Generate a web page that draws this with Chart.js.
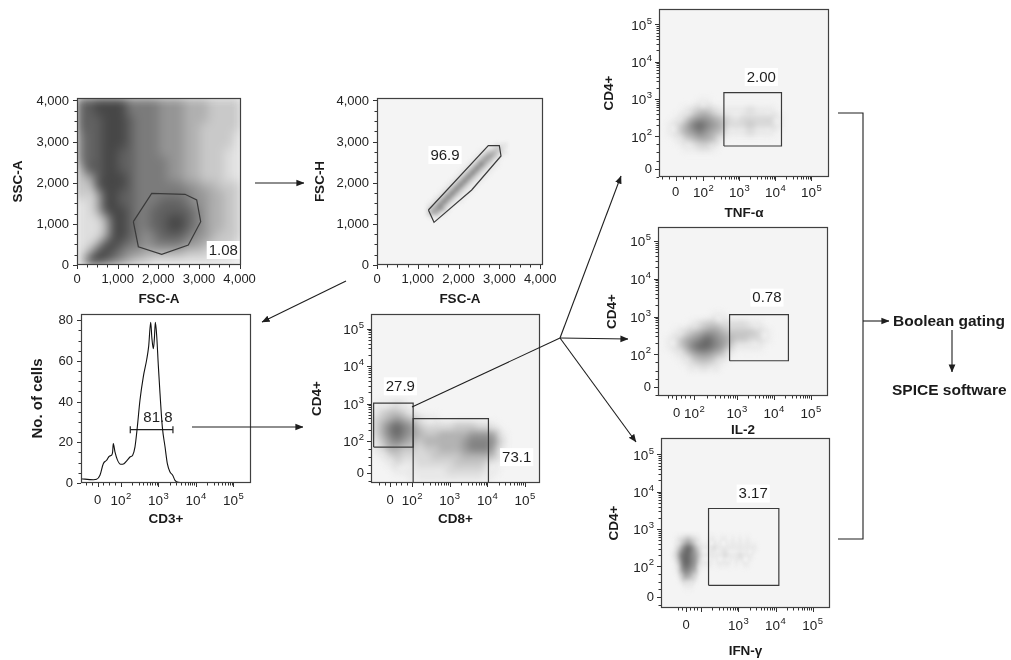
<!DOCTYPE html>
<html>
<head>
<meta charset="utf-8">
<script src="https://cdn.jsdelivr.net/npm/chart.js@4.4.1/dist/chart.umd.min.js"></script>
<style>
  html, body { margin: 0; padding: 0; background: #fff; width: 1011px; height: 660px; overflow: hidden; }
  #figure { position: relative; width: 1011px; height: 660px; font-family: 'Liberation Sans', Arial, sans-serif; }
  .panel { position: absolute; z-index: 1; }
  .panel canvas { display: block; }
  #flow { position: absolute; left: 0; top: 0; z-index: 2; pointer-events: none; }
  .note { position: absolute; z-index: 3; font-weight: bold; font-size: 15.5px; line-height: 18px; color: #1a1a1a; white-space: nowrap; }
</style>
</head>
<body>
<div id="figure">
  <svg id="flow" width="1011" height="660" viewBox="0 0 1011 660">
    <defs>
      <marker id="head" viewBox="0 0 10 10" refX="9.5" refY="5" markerWidth="8" markerHeight="8" markerUnits="userSpaceOnUse" orient="auto">
        <path d="M0,0.8 L10,5 L0,9.2 z" fill="#1e1e1e"/>
      </marker>
    </defs>
    <g stroke="#1e1e1e" stroke-width="1.1" fill="none">
      <line x1="255" y1="183" x2="304" y2="183" marker-end="url(#head)"/>
      <line x1="346" y1="281" x2="262" y2="322" marker-end="url(#head)"/>
      <line x1="192" y1="427" x2="303" y2="427" marker-end="url(#head)"/>
      <line x1="412" y1="407" x2="560" y2="338"/>
      <line x1="560" y1="338" x2="621" y2="176" marker-end="url(#head)"/>
      <line x1="560" y1="338" x2="628" y2="339" marker-end="url(#head)"/>
      <line x1="560" y1="338" x2="636" y2="442" marker-end="url(#head)"/>
      <polyline points="838,113 863,113 863,539 838,539"/>
      <line x1="863" y1="321" x2="889" y2="321" marker-end="url(#head)"/>
      <line x1="952" y1="330" x2="952" y2="372" marker-end="url(#head)"/>
    </g>
  </svg>
  <div class="note" style="left:893px;top:312px">Boolean gating</div>
  <div class="note" style="left:892px;top:381px">SPICE software</div>
</div>

<script>
// ---------------- tick labels ----------------
const LINEAR_TICKS = [0, 1000, 2000, 3000, 4000];
const LINEAR_LABELS = ['0', '1,000', '2,000', '3,000', '4,000'];
const COUNT_TICKS = [0, 20, 40, 60, 80];
const COUNT_LABELS = ['0', '20', '40', '60', '80'];
const DECADE_LABELS = ['0', '10²', '10³', '10⁴', '10⁵'];
const IFNG_DECADE_LABELS = ['0', '', '10³', '10⁴', '10⁵'];

// where 0, 10², 10³, 10⁴, 10⁵ sit on each biexponential axis (display units)
const CD3_DECADES = [1.38, 2, 3, 4, 5];
const CD8_DECADES = [1.42, 2, 3, 4, 5];
const CD4_DECADES = [1.147, 2, 3, 4, 5];
const TNF_DECADES = [1.23, 2, 3, 4, 5];
const CD4_TNF_DECADES = [1.134, 2, 3, 4, 5];
const IL2_DECADES = [1.365, 1.85, 3, 4, 5];
const CD4_IL2_DECADES = [1.135, 2, 3, 4, 5];
const IFNG_DECADES = [1.594, 2, 3, 4, 5];
const CD4_IFNG_DECADES = [1.177, 2, 3, 4, 5];

// ---------------- event density grids (0 = no events, 1..7 rising density, 8/9 saturated core) ----------------
const LYMPH_DENSITY = [
  '66777755554443332222',
  '66777755554443332222',
  '66677765554443332222',
  '66677765554443322222',
  '56677765554443322221',
  '56677765554443322221',
  '56677665554443322211',
  '56677665555443322211',
  '87677665555443322211',
  '88677765555443322211',
  '89777765555554433222',
  '89877665555555443322',
  '99877665556665443322',
  '99877765566666543322',
  '99987765566776543322',
  '99987765566776543322',
  '99987765456665443222',
  '99877655455554432221',
  '98776544333332221111',
  '97765432211111111110'
];
const SINGLET_DENSITY = [
  '00000000000000000111',
  '00000000000000012321',
  '00000000000001234321',
  '00000000000012454210',
  '00000000000124542100',
  '00000000001246421100',
  '00000000012464211000',
  '00000000124642110000',
  '00000001246421100000',
  '00000012464211000000',
  '00000124642110000000',
  '00001246421100000000',
  '00012464211000000000',
  '00124642110000000000',
  '01246421100000000000',
  '12464210000000000000',
  '24553100000000000000',
  '24421000000000000000',
  '01100000000000000000',
  '00000000000000000000'
];
const CD4CD8_DENSITY = [
  '00000000000000000000',
  '00000000000000000000',
  '01121000000000000000',
  '12332100000000000000',
  '23454321100000000000',
  '24676532222333221000',
  '24676543344445554100',
  '13565434444456665200',
  '12443323344456664100',
  '01232222333344443100',
  '00121122222333321000',
  '00011111112222211000',
  '00000111111111110000'
];
const TNF_DENSITY = [
  '00000000000000000000',
  '00000110000000000000',
  '00012332111121110000',
  '00124554321222221000',
  '01246765422232221000',
  '01245654311121110000',
  '00123443100000000000',
  '00011221000000000000',
  '00000000000000000000'
];
const IL2_DENSITY = [
  '00000000000000000000',
  '00000001100000000000',
  '00001233222211000000',
  '00123455433332100000',
  '01245676543322100000',
  '01246776531111000000',
  '00124554310000000000',
  '00012332100000000000',
  '00001111000000000000'
];
const IFNG_DENSITY = [
  '00000000000000000000000000',
  '01234321001101101010100000',
  '02467642111211111111111000',
  '13677653111111211121110000',
  '02577652111011110101100000',
  '01466541000000000000000000',
  '00244320000000000000000000',
  '00011100000000000000000000',
  '00000000000000000000000000'
];

// ---------------- CD3 histogram ----------------
const CD3_LEVEL = [0.93, 1.27, 1.356, 1.445, 1.534, 1.623, 1.694, 1.757, 1.783, 1.80, 1.845, 1.907, 1.997, 2.085,
  2.174, 2.245, 2.317, 2.379, 2.441, 2.512, 2.601, 2.69, 2.743, 2.797, 2.83, 2.868, 2.895, 2.921, 2.957, 3.001,
  3.045, 3.107, 3.179, 3.241, 3.312, 3.383, 3.445, 3.534, 3.756, 5.47];
const CD3_CELLS = [2.1, 1.6, 1.8, 3.8, 9.5, 11.2, 13.2, 13.7, 15.3, 19.4, 15.3, 11.5, 9.2, 9.5,
  11.2, 12.8, 13.7, 17.8, 27.6, 40.8, 52.3, 60.6, 67.2, 79, 71, 66, 71, 79, 72.4, 57.6,
  44.1, 27.6, 17.8, 9.5, 5.4, 3.8, 1.3, 0.3, 0, 0];

// ---------------- gates and their frequencies ----------------
const LYMPH_GATE = [[1386, 1053], [1838, 1743], [2657, 1719], [2945, 1580], [3043, 1053], [2739, 486], [2084, 260], [1509, 445]];
const SINGLET_GATE = [[1260, 1337], [1398, 1037], [2322, 1823], [3040, 2650], [2999, 2901], [2729, 2901]];
const CD3_GATE = [2.253, 3.39, 26.2];
const CD4_GATE = [[0.98, 1.84], [2.03, 3.01]];
const CD8_GATE = [[2.03, 0.88], [4.03, 2.6]];
const TNF_GATE = [[2.57, 1.74], [4.17, 3.17]];
const IL2_GATE = [[2.8, 1.83], [4.39, 3.05]];
const IFNG_GATE = [[2.2, 1.49], [4.09, 3.55]];
const GATE_PERCENT = ['1.08', '96.9', '81.8', '27.9', '73.1', '2.00', '0.78', '3.17'];

// ---------------- drawing ----------------
const FONT = "'Liberation Sans', Arial, 'DejaVu Sans', sans-serif";
Chart.defaults.font.family = FONT;
const INK = '#1e1e1e';
// grey ramps used to paint event density; the last two entries are the pale saturated core
const DENSE_RAMP = [null, '#e0e0e0', '#c9c9c9', '#b0b0b0', '#959595', '#7b7b7b', '#616161', '#474747', '#b4b4b4', '#dedede'];
const SPARSE_RAMP = [null, '#e8e8e8', '#d9d9d9', '#c7c7c7', '#b3b3b3', '#9d9d9d', '#858585', '#6a6a6a', '#b2b2b2', '#dedede'];
const SUPERSCRIPT = { '²': '2', '³': '3', '⁴': '4', '⁵': '5' };

function stepTicks(max, step) {
  const out = [];
  for (let v = step; v <= max; v += step) out.push(v);
  return out;
}
function decadeMinors(dec, lo, hi) {
  const out = [];
  for (let k = 1; k < 4; k++) {
    const a = dec[k], b = dec[k + 1];
    for (let m = 2; m <= 9; m++) out.push(a + Math.log10(m) * (b - a));
  }
  const z = dec[0], s = (dec[1] - dec[0]) / 4;
  for (let i = -2; i <= 3; i++) if (i !== 0) out.push(z + i * s);
  return out.filter(v => v > lo && v < hi);
}

function densityImage(rows, ramp) {
  const h = rows.length, w = rows[0].length;
  const c = document.createElement('canvas');
  c.width = w; c.height = h;
  const g = c.getContext('2d');
  rows.forEach((row, j) => {
    for (let i = 0; i < w; i++) {
      const lv = +row[i];
      if (lv) { g.fillStyle = ramp[lv]; g.fillRect(i, j, 1, 1); }
    }
  });
  return c;
}

// tick label with a raised exponent for powers of ten
function drawTickLabel(ctx, text, x, y, align) {
  if (!text) return;
  const last = text[text.length - 1];
  ctx.fillStyle = '#222';
  ctx.textBaseline = 'middle';
  ctx.textAlign = 'left';
  if (SUPERSCRIPT[last]) {
    const base = text.slice(0, -1), exp = SUPERSCRIPT[last];
    ctx.font = `13.5px ${FONT}`;
    const wb = ctx.measureText(base).width;
    ctx.font = `9.5px ${FONT}`;
    const we = ctx.measureText(exp).width;
    const total = wb + we + 0.5;
    const x0 = align === 'center' ? x - total / 2 : x - total;
    ctx.font = `13.5px ${FONT}`;
    ctx.fillText(base, x0, y + 1.5);
    ctx.font = `9.5px ${FONT}`;
    ctx.fillText(exp, x0 + wb + 0.5, y - 3.5);
  } else {
    ctx.font = `13px ${FONT}`;
    const w = ctx.measureText(text).width;
    ctx.fillText(text, align === 'center' ? x - w / 2 : x - w, y + 0.5);
  }
}

function gateLine(points) {
  return {
    data: points.map(([x, y]) => ({ x, y })), showLine: true, fill: false,
    borderColor: '#3a3a3a', borderWidth: 1.2, pointRadius: 0, tension: 0
  };
}
function rectGate([[x0, y0], [x1, y1]]) {
  return gateLine([[x0, y0], [x1, y0], [x1, y1], [x0, y1], [x0, y0]]);
}

function decor(spec) {
  const g = spec.geo;
  return {
    id: 'decor',
    beforeDraw(chart) {
      const { ctx, chartArea: a } = chart;
      ctx.save();
      ctx.fillStyle = spec.bg || '#f4f4f4';
      ctx.fillRect(a.left, a.top, a.width, a.height);
      ctx.restore();
    },
    beforeDatasetsDraw(chart) {
      const d = spec.density;
      if (!d) return;
      const { ctx, chartArea: a, scales: { x, y } } = chart;
      const img = densityImage(d.rows, d.ramp);
      const cols = d.rows[0].length, rows = d.rows.length;
      const px0 = x.getPixelForValue(d.x0), px1 = x.getPixelForValue(d.x0 + cols * d.dx);
      const py0 = y.getPixelForValue(d.yTop), py1 = y.getPixelForValue(d.yTop - rows * d.dy);
      ctx.save();
      ctx.beginPath(); ctx.rect(a.left, a.top, a.width, a.height); ctx.clip();
      ctx.imageSmoothingEnabled = true;
      ctx.imageSmoothingQuality = 'high';
      ctx.filter = `blur(${d.soften}px)`;
      ctx.drawImage(img, px0, py0, px1 - px0, py1 - py0);
      ctx.restore();
    },
    afterDatasetsDraw(chart) {
      const { ctx, chartArea: a, scales: { x, y } } = chart;
      ctx.save();
      (spec.labels || []).forEach(l => {
        ctx.font = `15px ${FONT}`;
        const w = ctx.measureText(l.text).width;
        const px = x.getPixelForValue(l.x), py = y.getPixelForValue(l.y);
        if (l.box) { ctx.fillStyle = '#ffffff'; ctx.fillRect(px - w / 2 - 2, py - 9, w + 4, 18); }
        ctx.fillStyle = INK; ctx.textAlign = 'center'; ctx.textBaseline = 'middle';
        ctx.fillText(l.text, px, py + 0.5);
      });
      ctx.strokeStyle = '#404040'; ctx.lineWidth = 1.2;
      ctx.strokeRect(a.left + 0.5, a.top + 0.5, a.width - 1, a.height - 1);
      ctx.restore();
    },
    afterDraw(chart) {
      const { ctx, chartArea: a, scales: { x, y } } = chart;
      ctx.save();
      ctx.strokeStyle = '#333'; ctx.lineWidth = 1;
      const mark = (axis, v, len) => {
        if (axis === x) {
          const p = Math.round(x.getPixelForValue(v)) + 0.5;
          ctx.beginPath(); ctx.moveTo(p, a.bottom); ctx.lineTo(p, a.bottom + len); ctx.stroke();
        } else {
          const p = Math.round(y.getPixelForValue(v)) + 0.5;
          ctx.beginPath(); ctx.moveTo(a.left, p); ctx.lineTo(a.left - len, p); ctx.stroke();
        }
      };
      x.ticks.forEach(t => mark(x, t.value, 4));
      spec.x.minor.forEach(v => mark(x, v, 2.5));
      y.ticks.forEach(t => mark(y, t.value, 4));
      spec.y.minor.forEach(v => mark(y, v, 2.5));
      x.ticks.forEach((t, i) => drawTickLabel(ctx, spec.x.labels[i], x.getPixelForValue(t.value), a.bottom + g.xPad + 7.8, 'center'));
      y.ticks.forEach((t, i) => drawTickLabel(ctx, spec.y.labels[i], a.left - g.yPad, y.getPixelForValue(t.value), 'right'));
      ctx.restore();
    }
  };
}

function axisOptions(a, which, size) {
  return {
    type: 'linear', position: which === 'x' ? 'bottom' : 'left', min: a.min, max: a.max,
    afterBuildTicks: s => { s.ticks = a.major.map(v => ({ value: v })); },
    afterFit: s => { if (which === 'x') s.height = size; else s.width = size; },
    grid: { display: false, drawTicks: false }, border: { display: false },
    ticks: { display: false, autoSkip: false },
    title: { display: true, text: a.title, color: '#1a1a1a', padding: 0, font: { family: FONT, size: a.titleSize || 13.5, weight: 'bold' } }
  };
}

function buildPanel(spec) {
  const g = spec.geo;
  const padT = Math.min(12, g.T);
  const left = g.yTitleX - 9, top = g.T - padT;
  const width = g.R + 22 - left, height = g.xTitleY + 8 - top;
  const yW = g.L - left, xH = top + height - g.B;
  const div = document.createElement('div');
  div.className = 'panel';
  div.style.left = left + 'px'; div.style.top = top + 'px';
  const cv = document.createElement('canvas');
  cv.width = width; cv.height = height;
  cv.style.width = width + 'px'; cv.style.height = height + 'px';
  div.appendChild(cv);
  document.getElementById('figure').appendChild(div);
  new Chart(cv, {
    type: 'scatter',
    data: { datasets: spec.datasets },
    options: {
      responsive: false, animation: false, devicePixelRatio: 1,
      layout: { padding: { left: 0, top: padT, right: 22, bottom: 0 } },
      plugins: { legend: { display: false }, tooltip: { enabled: false } },
      scales: { x: axisOptions(spec.x, 'x', xH), y: axisOptions(spec.y, 'y', yW) }
    },
    plugins: [decor(spec)]
  });
}

function linAxis(title, max) {
  return { title, min: 0, max, major: LINEAR_TICKS, labels: LINEAR_LABELS, minor: stepTicks(max, 250).filter(v => v % 1000) };
}
function logAxis(title, dec, min, max, labels) {
  return { title, min, max, major: dec, labels: labels || DECADE_LABELS, minor: decadeMinors(dec, min, max) };
}

// lymphocytes: SSC-A vs FSC-A
buildPanel({
  geo: { L: 77, T: 98, R: 241, B: 265, yTitleX: 19, xTitleY: 299, xPad: 6, yPad: 8 },
  x: linAxis('FSC-A', 4035), y: linAxis('SSC-A', 4060),
  density: { rows: LYMPH_DENSITY, ramp: DENSE_RAMP, soften: 5, x0: 0, dx: 4035 / 20, yTop: 4060, dy: 203 },
  datasets: [gateLine([...LYMPH_GATE, LYMPH_GATE[0]])],
  labels: [{ text: GATE_PERCENT[0], x: 3600, y: 365, box: true }]
});

// singlets: FSC-H vs FSC-A
buildPanel({
  geo: { L: 377, T: 98, R: 543, B: 265, yTitleX: 321, xTitleY: 299, xPad: 6, yPad: 8 },
  x: linAxis('FSC-A', 4070), y: linAxis('FSC-H', 4060),
  density: { rows: SINGLET_DENSITY, ramp: SPARSE_RAMP, soften: 1.5, x0: 1200, dx: 100, yTop: 3000, dy: 100 },
  datasets: [gateLine([...SINGLET_GATE, SINGLET_GATE[0]])],
  labels: [{ text: GATE_PERCENT[1], x: 1667, y: 2674, box: true }]
});

// CD3 histogram
buildPanel({
  geo: { L: 81, T: 314, R: 251, B: 483, yTitleX: 38, xTitleY: 519, xPad: 9, yPad: 8 },
  bg: '#ffffff',
  x: logAxis('CD3+', CD3_DECADES, 0.94, 5.47),
  y: { title: 'No. of cells', titleSize: 15, min: 0, max: 83.1, major: COUNT_TICKS, labels: COUNT_LABELS, minor: stepTicks(83, 5).filter(v => v % 20) },
  datasets: [
    {
      data: CD3_LEVEL.map((x, i) => ({ x, y: CD3_CELLS[i] })), showLine: true, fill: false,
      borderColor: '#111', borderWidth: 1.1, pointRadius: 0, cubicInterpolationMode: 'monotone'
    },
    {
      data: [{ x: CD3_GATE[0], y: CD3_GATE[2] }, { x: CD3_GATE[1], y: CD3_GATE[2] }], showLine: true,
      borderColor: '#222', borderWidth: 1.2, pointStyle: 'line', rotation: 90, pointRadius: 3.5,
      pointBorderColor: '#222', pointBorderWidth: 1.2
    }
  ],
  labels: [{ text: GATE_PERCENT[2], x: 2.99, y: 32.5, box: false }]
});

// CD4 vs CD8
buildPanel({
  geo: { L: 371, T: 314, R: 540, B: 483, yTitleX: 318, xTitleY: 519, xPad: 9, yPad: 7 },
  x: logAxis('CD8+', CD8_DECADES, 0.91, 5.40), y: logAxis('CD4+', CD4_DECADES, 0.88, 5.39),
  density: { rows: CD4CD8_DENSITY, ramp: SPARSE_RAMP, soften: 2.5, x0: 0.9, dx: 0.2, yTop: 3.5, dy: 0.2 },
  datasets: [rectGate(CD4_GATE), rectGate(CD8_GATE)],
  labels: [{ text: GATE_PERCENT[3], x: 1.69, y: 3.46, box: true }, { text: GATE_PERCENT[4], x: 4.78, y: 1.57, box: true }]
});

// TNF-α
buildPanel({
  geo: { L: 659, T: 9, R: 829, B: 177, yTitleX: 610, xTitleY: 213, xPad: 7, yPad: 7 },
  x: logAxis('TNF-α', TNF_DECADES, 0.767, 5.49), y: logAxis('CD4+', CD4_TNF_DECADES, 0.909, 5.413),
  density: { rows: TNF_DENSITY, ramp: SPARSE_RAMP, soften: 2, x0: 0.8, dx: 0.2, yTop: 3.2, dy: 0.2 },
  datasets: [rectGate(TNF_GATE)],
  labels: [{ text: GATE_PERCENT[5], x: 3.61, y: 3.59, box: true }]
});

// IL-2
buildPanel({
  geo: { L: 658, T: 227, R: 828, B: 396, yTitleX: 613, xTitleY: 430, xPad: 9, yPad: 7 },
  x: logAxis('IL-2', IL2_DECADES, 0.865, 5.46), y: logAxis('CD4+', CD4_IL2_DECADES, 0.897, 5.368),
  density: { rows: IL2_DENSITY, ramp: SPARSE_RAMP, soften: 2, x0: 0.9, dx: 0.2, yTop: 3.3, dy: 0.2 },
  datasets: [rectGate(IL2_GATE)],
  labels: [{ text: GATE_PERCENT[6], x: 3.81, y: 3.5, box: true }]
});

// IFN-γ
buildPanel({
  geo: { L: 661, T: 438, R: 830, B: 608, yTitleX: 615, xTitleY: 651, xPad: 9, yPad: 7 },
  x: logAxis('IFN-γ', IFNG_DECADES, 0.922, 5.465, IFNG_DECADE_LABELS), y: logAxis('CD4+', CD4_IFNG_DECADES, 0.882, 5.44),
  density: { rows: IFNG_DENSITY, ramp: SPARSE_RAMP, soften: 1.5, x0: 1.2, dx: 0.1, yTop: 3.0, dy: 0.2 },
  datasets: [rectGate(IFNG_GATE)],
  labels: [{ text: GATE_PERCENT[7], x: 3.40, y: 3.95, box: true }]
});
</script>
</body>
</html>
